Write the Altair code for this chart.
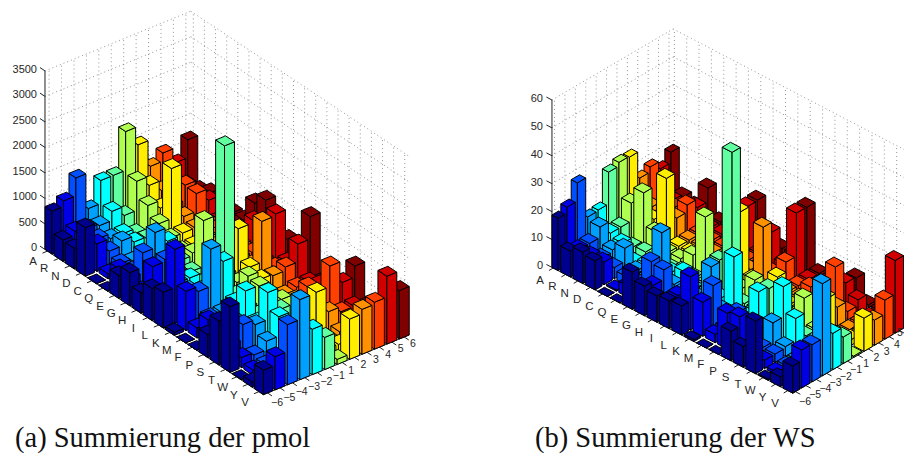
import altair as alt
import pandas as pd

alt.data_transformers.disable_max_rows()

RESIDUES = list("ARNDCQEGHILKMFPSTWYV")
POSITIONS = ["\u22126", "\u22125", "\u22124", "\u22123", "\u22122", "\u22121", "1", "2", "3", "4", "5", "6"]
COLOURS = ["#00008f", "#0000e6", "#0050ff", "#00a0ff", "#00ffff", "#60ffa0",
           "#b0ff50", "#ffee00", "#ff9000", "#ff4000", "#d00000", "#800000"]

PMOL = [
    [840, 950, 1300, 600, 1050, 1050, 1810, 1450, 930, 1090, 800, 1150],
    [420, 500, 450, 410, 590, 410, 980, 800, 600, 500, 500, 300],
    [400, 350, 400, 300, 300, 200, 650, 500, 450, 750, 450, 400],
    [950, 540, 300, 400, 280, 250, 440, 1420, 380, 730, 500, 350],
    [0, 100, 200, 150, 150, 150, 300, 300, 300, 300, 250, 300],
    [0, 340, 200, 200, 150, 100, 200, 200, 250, 200, 200, 300],
    [450, 300, 700, 1000, 730, 250, 300, 300, 250, 300, 300, 780],
    [650, 200, 300, 300, 200, 180, 1080, 400, 300, 300, 680, 980],
    [400, 820, 860, 300, 300, 100, 300, 300, 300, 300, 300, 300],
    [630, 300, 300, 300, 200, 200, 300, 1110, 300, 300, 1100, 500],
    [700, 1450, 500, 400, 300, 3080, 300, 500, 1300, 300, 300, 500],
    [60, 770, 670, 1400, 1060, 300, 570, 410, 380, 450, 800, 1240],
    [0, 200, 300, 300, 400, 200, 520, 200, 150, 200, 200, 100],
    [0, 500, 200, 300, 770, 200, 300, 200, 200, 350, 300, 200],
    [450, 300, 300, 300, 300, 200, 550, 300, 200, 200, 100, 200],
    [860, 300, 600, 500, 1030, 600, 200, 300, 200, 1050, 630, 850],
    [1290, 200, 150, 320, 700, 200, 200, 880, 400, 300, 310, 200],
    [10, 100, 100, 100, 100, 150, 100, 100, 150, 200, 200, 150],
    [100, 150, 100, 100, 100, 200, 150, 150, 200, 150, 200, 100],
    [480, 650, 1180, 1570, 890, 630, 100, 790, 880, 920, 1330, 950],
]
WS = [
    [18.8, 20.9, 27.4, 13, 13.3, 24.7, 26, 25.7, 16, 17.8, 15, 18.7],
    [9.3, 8, 8, 11.7, 7.3, 7.3, 13.7, 10, 8, 6, 6, 5],
    [11.2, 8, 5, 5.8, 6, 2.5, 19.7, 8, 7, 8, 5, 4],
    [10.4, 8.1, 4, 8.7, 1.5, 3, 8, 25, 8.6, 11.1, 8, 12.8],
    [0, 0.5, 3, 3, 3, 2, 3, 3, 3, 3, 3, 3],
    [0, 4, 3, 3, 2, 2, 3, 3, 3, 3, 3, 3],
    [13.3, 5, 13, 21.2, 5, 3, 6.6, 4, 3, 3, 3, 3],
    [10.6, 9, 12.4, 5, 7.3, 3, 22.6, 4, 3, 3, 17.5, 17.7],
    [9.4, 4, 5, 5, 3, 3, 3, 4, 3, 3, 3, 3],
    [9.9, 10, 5, 5, 5, 14, 4, 26.9, 4, 3, 13, 5],
    [10.4, 19, 5, 18.2, 5, 54.9, 4, 5, 21.5, 3, 4, 5],
    [0.7, 12.2, 16, 5, 21.9, 3, 9.2, 4, 3, 9.1, 24.5, 24.4],
    [0, 3, 3, 3, 3, 3, 3, 10.4, 3, 3, 3, 3],
    [0, 12.9, 11, 5, 14, 13, 3, 3, 3, 4.8, 3, 3],
    [10.6, 13.9, 3, 3, 3, 3, 3, 3, 3, 3, 3, 3],
    [7.5, 3, 3, 9.7, 20.5, 3, 12, 3, 3, 16.6, 8.7, 8.3],
    [18.9, 3, 3, 3.5, 11.4, 3, 3, 12, 6.7, 3, 5, 1],
    [0.4, 1, 1, 1, 1, 1, 1, 1, 1, 1, 1, 1],
    [3.5, 1, 2, 2, 2, 1, 5, 2, 2, 2, 2, 1],
    [9.7, 13.6, 13.3, 33, 13, 9.5, 0.5, 11.9, 9, 14, 26, 9.7],
]
PANELS = [
    dict(name="a", data=PMOL, ticks=[0, 500, 1000, 1500, 2000, 2500, 3000, 3500],
         o=(51.6, 249.4), r=(11.13, 7.4), c=(12.43, -5.09), k=25.5 / 500,
         imin=-0.225, jmin=-0.33, row0=(33, 262), rowd=(11.16, 7.42),
         col0=(277, 403), cold=(12.36, -5.36), zx=37,
         caption="(a) Summierung der pmol", capx=15),
    dict(name="b", data=WS, ticks=[0, 10, 20, 30, 40, 50, 60],
         o=(555.8, 266.5), r=(12.35, 6.45), c=(10.4, -6.1), k=2.79,
         imin=-0.1, jmin=-0.25, row0=(540, 280.7), rowd=(12.37, 6.49),
         col0=(805, 401.7), cold=(10.2, -6.27), zx=543,
         caption="(b) Summierung der WS", capx=535),
]
HALF = 0.4
IMAX, JMAX = 19.4, 11.4
RIGHT_EDGE = 899

faces, lines, grids, texts, coltexts, zlabels, captions = [], [], [], [], [], [], []


def project(p, u, v, z=0.0):
    return (p["o"][0] + u * p["r"][0] + v * p["c"][0],
            p["o"][1] + u * p["r"][1] + v * p["c"][1] - z * p["k"])


def add_face(fid, fill, upper, lower):
    xs = sorted({round(q[0], 2) for q in upper + lower})

    def at(chain, x):
        for a, b in zip(chain, chain[1:]):
            if a[0] - 0.011 <= x <= b[0] + 0.011:
                t = 0 if b[0] == a[0] else (x - a[0]) / (b[0] - a[0])
                return a[1] + t * (b[1] - a[1])
        return chain[-1][1]

    for x in xs:
        faces.append(dict(face=fid, fill=fill, x=x, y=round(at(lower, x), 2), y2=round(at(upper, x), 2)))


for p in PANELS:
    zmax = p["ticks"][-1]
    n = p["name"]
    L = lambda u, v, z=0.0, P=p: project(P, u, v, z)

    def seg(store, a, b, tag):
        store.append(dict(line=tag, step=0, x=round(a[0], 2), y=round(a[1], 2)))
        store.append(dict(line=tag, step=1, x=round(b[0], 2), y=round(b[1], 2)))

    for z in p["ticks"]:
        seg(grids, L(p["imin"], p["jmin"], z), L(p["imin"], JMAX, z), f"{n}zl{z}")
        seg(grids, L(p["imin"], JMAX, z), L(IMAX, JMAX, z), f"{n}zr{z}")
        seg(lines, L(p["imin"], p["jmin"], z), L(p["imin"] - 0.45, p["jmin"], z), f"{n}zt{z}")
        sx, sy = L(p["imin"], p["jmin"], z)
        zlabels.append(dict(x=p["zx"], y=round(sy - 1, 2), label=str(z)))
    for j in range(12):
        seg(grids, L(p["imin"], j), L(p["imin"], j, zmax), f"{n}cv{j}")
        seg(grids, L(p["imin"], j), L(IMAX, j), f"{n}cf{j}")
        seg(lines, L(IMAX, j), L(IMAX + 0.4, j), f"{n}ct{j}")
        tx = p["col0"][0] + j * p["cold"][0]
        ty = p["col0"][1] + j * p["cold"][1]
        if tx < 912:
            if tx > RIGHT_EDGE + 2:
                tx, ty = RIGHT_EDGE + 1, ty - 6
            coltexts.append(dict(x=tx, y=ty, label=POSITIONS[j]))
    for i in range(20):
        seg(grids, L(i, JMAX), L(i, JMAX, zmax), f"{n}rv{i}")
        seg(grids, L(i, p["jmin"]), L(i, JMAX), f"{n}rf{i}")
        seg(lines, L(i, p["jmin"]), L(i, p["jmin"] - 0.4), f"{n}rt{i}")
        texts.append(dict(x=p["row0"][0] + i * p["rowd"][0], y=p["row0"][1] + i * p["rowd"][1], label=RESIDUES[i]))
    seg(lines, L(p["imin"], p["jmin"]), L(p["imin"], p["jmin"], zmax), f"{n}zaxis")
    seg(lines, L(p["imin"], p["jmin"]), L(IMAX, p["jmin"]), f"{n}raxis")
    seg(lines, L(IMAX, p["jmin"]), L(IMAX, JMAX), f"{n}caxis")
    captions.append(dict(x=p["capx"], y=447, label=p["caption"]))

    for i in range(20):
        for j in range(11, -1, -1):
            z = p["data"][i][j]
            i0, i1 = max(i - HALF, p["imin"]), min(i + HALF, IMAX)
            j0, j1 = max(j - HALF, p["jmin"]), min(j + HALF, JMAX)
            col = COLOURS[j]
            base = f"{n}{i:02d}{11 - j:02d}"
            a0, b0, c0 = L(i0, j0), L(i1, j0), L(i1, j1)
            a1, b1, c1 = L(i0, j0, z), L(i1, j0, z), L(i1, j1, z)
            d1 = L(i0, j1, z)
            add_face(base + "l", col, [a1, b1], [a0, b0])
            add_face(base + "r", col, [b1, c1], [b0, c0])
            add_face(base + "t", col, [a1, d1, c1], [a1, b1, c1])

X = alt.X("x:Q", scale=alt.Scale(domain=[8, 904], nice=False, zero=False), axis=None)
Y = alt.Y("y:Q", scale=alt.Scale(domain=[454, 8], nice=False, zero=False), axis=None)

grid_layer = alt.Chart(pd.DataFrame(grids)).mark_line(
    stroke="#666666", strokeWidth=0.7, strokeDash=[1, 3], clip=True
).encode(X, Y, detail="line:N", order="step:Q")

axis_layer = alt.Chart(pd.DataFrame(lines)).mark_line(
    stroke="#222222", strokeWidth=1, clip=True
).encode(X, Y, detail="line:N", order="step:Q")

bar_layer = alt.Chart(pd.DataFrame(faces)).mark_area(
    stroke="#000000", strokeWidth=1, strokeJoin="round", orient="vertical", clip=True, opacity=1
).encode(
    X,
    alt.Y("y:Q", scale=alt.Scale(domain=[454, 8], nice=False, zero=False), axis=None, stack=None),
    alt.Y2("y2:Q"),
    alt.Fill("fill:N", scale=None),
    detail="face:N",
)

text_layer = alt.Chart(pd.DataFrame(texts)).mark_text(
    font="Liberation Sans", fontSize=11.5, fill="#262626", align="center", baseline="middle", clip=True
).encode(X, Y, text="label:N")

col_layer = alt.Chart(pd.DataFrame(coltexts)).mark_text(
    font="Liberation Sans", fontSize=10.5, fill="#262626", align="center", baseline="middle", clip=True
).encode(X, Y, text="label:N")

z_layer = alt.Chart(pd.DataFrame(zlabels)).mark_text(
    font="Liberation Sans", fontSize=11, fill="#262626", align="right", baseline="middle"
).encode(X, Y, text="label:N")

caption_layer = alt.Chart(pd.DataFrame(captions)).mark_text(
    font="Liberation Serif", fontSize=28.5, fill="#111111", align="left", baseline="alphabetic"
).encode(X, Y, text="label:N")

chart = alt.layer(grid_layer, axis_layer, bar_layer, text_layer, col_layer, z_layer, caption_layer).properties(
    width=896, height=446, padding=0, autosize=alt.AutoSizeParams(type="none")
).configure_view(stroke=None)

chart.save("out.html", embed_options={"renderer": "svg", "actions": False})
